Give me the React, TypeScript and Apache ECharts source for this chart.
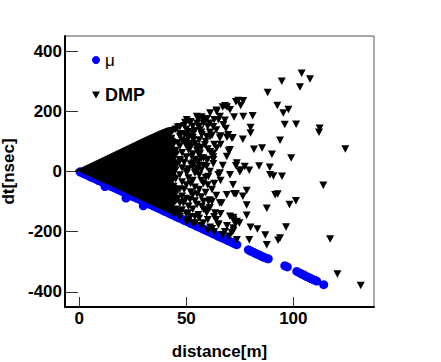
import React, { useEffect, useRef } from "react";
import * as echarts from "echarts";

// ---- axis ticks ----
const xTicks = [0, 50, 100];
const yTicks = [-400, -200, 0, 200, 400];

// ---- muon (μ) points: distance [m], dt [nsec] ----
const muonDistance = [
  0.3, 1, 2, 3, 4, 5, 6, 7, 8, 9, 10, 11, 12, 12, 12.5, 13, 14, 15, 16, 17, 18, 19, 20, 21, 21.8, 22, 23, 24, 25,
  26, 27, 28, 29, 29.9, 30, 31, 32, 33, 34, 35, 36, 37, 38, 39, 40, 41, 42, 43, 44, 45, 46, 47, 48, 49, 50,
  51, 52, 53, 54, 55, 56, 57, 58, 59, 60, 61, 62, 63, 64, 65, 66, 67, 68, 69, 70, 71, 72, 73, 73.6,
  79, 80, 81, 82, 83, 84, 85, 86, 87, 88.3, 96, 97.2, 101.6, 103, 104, 105, 106, 107, 108, 109, 110, 110.9, 114.2,
];
const muonDt = [
  -1, -3, -7, -10, -13, -17, -20, -23, -26, -30, -33, -36, -40, -50, -41, -43, -46, -50, -53, -56, -59, -63, -66, -69, -88, -73, -76, -79, -83,
  -86, -89, -92, -96, -114, -99, -102, -106, -109, -112, -116, -119, -122, -125, -129, -132, -135, -139, -142, -145, -149, -152, -155, -158, -162, -165,
  -168, -172, -175, -178, -182, -185, -188, -191, -195, -198, -201, -205, -208, -211, -215, -218, -221, -224, -228, -231, -234, -238, -241, -243,
  -260, -264, -267, -271, -274, -277, -281, -284, -287, -290, -313, -317, -332, -337, -341, -344, -348, -351, -355, -358, -361, -364, -376,
];

// ---- DMP: outline of the saturated (fully overlapping) core, [distance, dt] ----
const dmpCoreOutline: [number, number][] = [
  [-2, 3], [0, 10], [10, 44], [20, 78], [30, 112], [38, 138], [41, 146], [44, 150], [45, 135], [43, 120], [46, 105],
  [44, 85], [47, 65], [45, 45], [47, 25], [44, 5], [46, -15], [44, -35], [47, -55], [45, -75], [47, -95], [44, -115],
  [46, -135], [45, -148], [30, -99], [15, -49], [0, -1], [-2, -1],
];

// ---- DMP points near the core edge (distance 42–62) ----
const dmpInner: [number, number][] = [
  [42, 130], [43, 110], [44, 90], [45, 70], [44, 50], [45, 25], [44, 0], [45, -25], [44, -50], [45, -75], [44, -100], [45, -125], [44, -140],
  [46, 148], [47, 125], [48, 105], [47, 85], [48, 62], [47, 35], [48, 12], [47, -12], [48, -35], [47, -58], [48, -82], [47, -105], [48, -128], [47, -150],
  [49, 152], [50, 140], [51, 118], [50, 95], [51, 72], [50, 48], [52, 25], [50, 2], [51, -22], [50, -45], [52, -68], [50, -90], [51, -115], [50, -140], [51, -160],
  [52, 165], [53, 150], [54, 135], [53, 112], [54, 92], [52, 80], [53, 58], [54, 40], [53, 15], [54, -5], [53, -30], [54, -52], [53, -78], [54, -98], [53, -125], [54, -150], [53, -170],
  [55, 160], [56, 150], [57, 130], [56, 105], [57, 80], [56, 55], [58, 45], [57, 5], [56, -12], [58, -40], [56, -60], [57, -85], [58, -125], [56, -155], [57, -180],
  [58, 160], [60, 150], [59, 100], [60, 75], [58, 20], [61, 0], [60, -45], [59, -70], [61, -95], [60, -160], [62, -190], [60, -195],
  [49.4, 163], [51.7, 161], [55.6, 174], [59.5, 174], [57.2, 181], [61.1, 116], [57.2, 122], [53.3, 127], [54.9, 83], [58.7, 89],
  [61.1, 66], [50.9, 111], [47, 116], [59.5, 39], [62.6, 39], [55.6, 33], [52.5, 50],
  [50.2, -5], [54.9, 0], [60.3, -17], [60.3, -100], [57.2, -116], [51.7, -94], [48.6, -105], [47, -133], [50.9, -138], [55.6, -144],
  [59.5, -138], [57.9, -171], [54.1, -171], [50.2, -166], [47, 149], [50.2, 172], [54.9, 183], [57.9, 172], [61.1, 194], [56.4, 138],
  [59.5, 116], [62.6, 149], [53.3, 105], [50.2, 83], [56.4, 61], [62.6, 61], [59.5, 17], [53.3, 28], [47, 39],
  [49, 125], [51, 132], [49, 100], [52, 92], [49, 30], [51, 8], [49, -60], [52, -40], [49, -100], [52, -150], [55, -110],
  [55, 70], [55, 10], [55, -75], [57, 45], [57, -30], [58, -100], [56, 20], [59, -20], [60, 40], [61, 130], [63, 90],
  [62, -60], [63, -150], [61, -120], [45, 140], [46, 95], [46, -90], [45, 5], [46, -140],
];

// ---- DMP points at middle distance (62–75) ----
const dmpMid: [number, number][] = [
  [72.3, 181], [67, 214], [69, 214], [64, 203], [65.7, 183], [63, 172], [59.5, 174], [66, 118], [69, 114], [71.7, 112],
  [64, 138], [68.5, 143], [69.8, 68], [71.2, 111], [70.4, 72], [68.9, 50], [65.7, -5], [62.6, 26], [62.6, 48], [71.8, -44],
  [72.3, -74], [66.5, -105], [59.5, -127], [65, -174], [61.1, -185], [72, -160], [72.8, -171], [72, -196], [71.2, -203],
  [74.8, -171], [73.6, -166], [72, -153], [72, -188], [73.2, 232], [70.4, 205], [68.1, 218], [64.2, 199], [65, 172], [67.3, 155],
  [69.6, 122], [65.7, 111], [73.6, 28], [64.2, 78], [65, -11], [70.4, -11], [68.9, -77], [65.7, -105], [63.4, -138], [65, -177],
  [70.4, -149], [73.6, -227], [63, -200], [67, -210], [68, -200], [70, -215], [69, -180], [64, -160], [66, -140], [62, -100],
  [64, -80], [63, -40], [66, -30], [67, 20], [66, 90], [62, 120], [68, 170], [61, 160],
];

// ---- DMP points at large distance (> 75) ----
const dmpFar: [number, number][] = [
  [103.9, 326], [107.8, 307], [94.6, 300], [103.1, 281], [88, 262], [92.5, 219], [97.7, 206], [95.3, 194], [96, 156], [101.3, 157],
  [112.3, 144], [112, 130], [93.8, 104], [124.3, 75], [81.6, 74], [85.4, 78], [90, 57], [99, 45], [84, 18], [89, 14],
  [114, -46], [90.7, -15], [94.7, -16], [75.4, 5], [79.4, 4], [76.4, 107], [80, 146], [80, 128], [76.6, 183], [81, 185],
  [74.3, 236], [76.6, 235], [75.4, 219], [92.7, -75], [91.5, -77], [101.2, -97], [98.2, -110], [87.6, -122], [96.6, -184],
  [93.8, -221], [92.9, -228], [117.2, -224], [120.6, -340], [131.5, -379], [86.9, -211], [87.6, -243], [79.4, -227], [80, -185],
  [83.2, -191], [78.2, -111], [78.2, -145], [76.4, -82], [73.2, -75], [78.2, -63], [77.3, 17], [73.2, 19], [75, -1], [89.1, -11],
];

const FONT = "'Liberation Sans', Arial, Helvetica, sans-serif";

export default function App() {
  const ref = useRef<HTMLDivElement>(null);

  useEffect(() => {
    if (!ref.current) return;
    const chart = echarts.init(ref.current, null, { renderer: "svg" });
    const muonData = muonDistance.map((d, i) => [d, muonDt[i]]);
    const dmpData = [...dmpInner, ...dmpMid, ...dmpFar];

    chart.setOption({
      animation: false,
      backgroundColor: "#ffffff",
      grid: {
        left: 65,
        top: 36,
        right: 67,
        bottom: 55,
        outerBoundsMode: "none",
        containLabel: false,
        show: true,
        borderColor: "#555555",
        borderWidth: 1,
        backgroundColor: "transparent",
      },
      legend: {
        orient: "vertical",
        left: 92,
        top: 51,
        padding: 0,
        itemWidth: 8,
        itemHeight: 8,
        itemGap: 17,
        selectedMode: false,
        textStyle: { fontFamily: FONT, fontSize: 17, color: "#000", lineHeight: 18 },
        data: [
          { name: "μ", icon: "circle", itemStyle: { opacity: 1 }, textStyle: { fontWeight: "normal" } },
          { name: "DMP", icon: "path://M0,0 L8,0 L4,7 Z", itemStyle: { opacity: 1 }, textStyle: { fontWeight: "bold", fontSize: 18 } },
        ],
      },
      xAxis: {
        type: "value",
        min: -6.7,
        max: 137.7,
        name: "distance[m]",
        nameLocation: "middle",
        nameGap: 36,
        nameTextStyle: { fontFamily: FONT, fontSize: 17, fontWeight: "bold", color: "#000" },
        splitLine: { show: false },
        axisLine: { show: true, onZero: false, lineStyle: { color: "#000", width: 2 } },
        axisTick: { show: true, inside: true, length: 10, customValues: xTicks, lineStyle: { color: "#333", width: 1 } },
        axisLabel: {
          customValues: xTicks,
          margin: 3,
          fontFamily: FONT,
          fontSize: 17,
          fontWeight: "bold",
          color: "#000",
        },
      },
      yAxis: {
        type: "value",
        min: -450,
        max: 450,
        name: "dt[nsec]",
        nameLocation: "middle",
        nameGap: 40,
        nameTextStyle: { fontFamily: FONT, fontSize: 17, fontWeight: "bold", color: "#000" },
        splitLine: { show: false },
        axisLine: { show: true, onZero: false, lineStyle: { color: "#000", width: 2 } },
        axisTick: { show: true, inside: true, length: 13, customValues: yTicks, lineStyle: { color: "#333", width: 1 } },
        axisLabel: {
          customValues: yTicks,
          margin: 3,
          fontFamily: FONT,
          fontSize: 17,
          fontWeight: "bold",
          color: "#000",
        },
      },
      series: [
        {
          name: "μ",
          type: "scatter",
          data: muonData,
          symbol: "circle",
          symbolSize: 9,
          itemStyle: { color: "#0000ff", opacity: 1 },
          z: 2,
        },
        {
          name: "DMP",
          type: "custom",
          data: [[0, 0]],
          z: 3,
          silent: true,
          renderItem: (_params: any, api: any) => ({
            type: "polygon",
            shape: { points: dmpCoreOutline.map((p) => api.coord(p)) },
            style: { fill: "#000000" },
          }),
          itemStyle: { color: "#000000" },
        },
        {
          name: "DMP",
          type: "scatter",
          data: dmpData,
          symbol: "triangle",
          symbolRotate: 180,
          symbolSize: [8, 7.5],
          itemStyle: { color: "#000000", opacity: 1 },
          z: 4,
        },
      ],
    });
    return () => chart.dispose();
  }, []);

  return (
    <div
      ref={ref}
      style={{ position: "fixed", left: 0, top: 0, width: 441, height: 362 }}
    />
  );
}
